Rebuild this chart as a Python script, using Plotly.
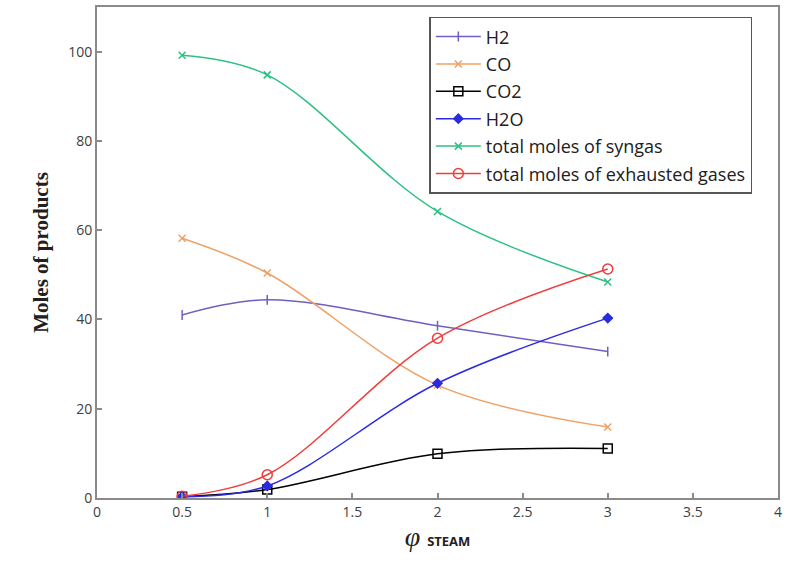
import plotly.graph_objects as go

phi = [0.5, 1, 2, 3]
h2 = [41.0, 44.4, 38.6, 32.8]
co = [58.2, 50.4, 25.3, 15.9]
co2 = [0.3, 1.9, 9.9, 11.1]
h2o = [0.3, 2.7, 25.7, 40.3]
syngas = [99.2, 94.8, 64.2, 48.4]
exhausted = [0.4, 5.2, 35.8, 51.3]

names = ["H2", "CO", "CO2", "H2O", "total moles of syngas", "total moles of exhausted gases"]
series = [h2, co, co2, h2o, syngas, exhausted]
colors = ["#6f5fc0", "#f0a064", "#000000", "#2a2ae0", "#2cc084", "#f03c3c"]
symbols = ["line-ns-open", "x-thin-open", "square-open", "diamond", "x-thin-open", "circle-open"]
sizes = [7, 7, 9, 7, 7, 10]

fig = go.Figure()
for i, (n, s) in enumerate(zip(names, series)):
    fig.add_trace(go.Scatter(
        x=phi, y=s, name=n, mode="lines+markers",
        line=dict(color=colors[i], width=1.5, shape="spline", smoothing=1.0),
        marker=dict(symbol=symbols[i], size=sizes[i], color=colors[i],
                    line=dict(color=colors[i], width=1.5)),
        legendgroup=f"g{i}",
    ))

fig.update_layout(
    width=785, height=569,
    margin=dict(l=97, r=3, t=7, b=71),
    paper_bgcolor="white", plot_bgcolor="white",
    showlegend=True,
    legend=dict(
        x=0.488, y=0.98, xanchor="left", yanchor="top",
        bordercolor="#555555", borderwidth=1.5, bgcolor="white",
        font=dict(family="Open Sans", size=18, color="#202020"),
        tracegroupgap=1, itemwidth=45,
    ),
    xaxis=dict(
        range=[0, 4], dtick=0.5, tick0=0,
        showline=True, linecolor="#8a8a8a", linewidth=2, mirror=True,
        ticks="inside", ticklen=5, tickcolor="#8a8a8a", tickwidth=1.5,
        showgrid=False, zeroline=False,
        tickfont=dict(family="Open Sans", size=14, color="#404040"),
        title=dict(
            text="<i>φ</i> <span style='font-size:13px;font-family:Open Sans'><b>STEAM</b></span>",
            font=dict(family="Liberation Serif", size=28, color="#202020"),
            standoff=0,
        ),
    ),
    yaxis=dict(
        range=[0, 110], dtick=20,
        showline=True, linecolor="#8a8a8a", linewidth=2, mirror=True,
        ticks="inside", ticklen=5, tickcolor="#8a8a8a", tickwidth=1.5,
        showgrid=False, zeroline=False,
        tickfont=dict(family="Open Sans", size=14, color="#404040"),
        title=dict(
            text="<b>Moles of products</b>",
            font=dict(family="Liberation Serif", size=21, color="#202020"),
            standoff=14,
        ),
    ),
)

fig.write_html("out.html")
